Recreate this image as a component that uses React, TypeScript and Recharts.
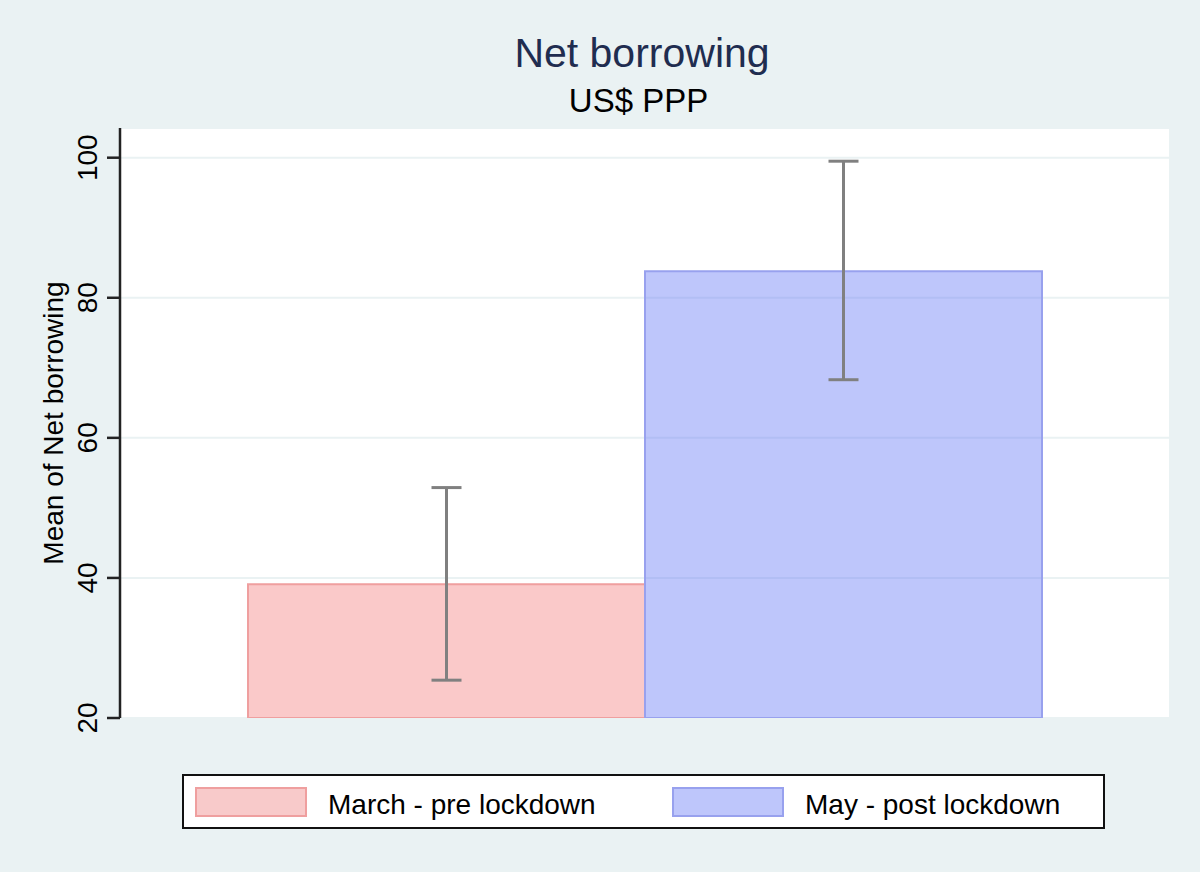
import React from "react";
import {
  BarChart,
  Bar,
  XAxis,
  YAxis,
  CartesianGrid,
  ErrorBar,
} from "recharts";

// values
const groups = ["March - pre lockdown", "May - post lockdown"];
const means = [39.1, 83.8];
const ciLow = [25.4, 68.3];
const ciHigh = [52.9, 99.5];
const yTicks = [20, 40, 60, 80, 100];

const FONT = '"Liberation Sans", Arial, Helvetica, sans-serif';
const BG = "#EAF2F3";

const seriesStyle = [
  { key: "march", fill: "rgb(240,100,100)", opacity: 0.35, stroke: "#EF9F9F", swatch: "#F8CACA" },
  { key: "may", fill: "rgb(100,120,245)", opacity: 0.42, stroke: "#98A1EE", swatch: "#BEC6FB" },
];

const row: Record<string, any> = { name: "" };
seriesStyle.forEach((s, i) => {
  row[s.key] = means[i];
  row[s.key + "Err"] = [means[i] - ciLow[i], ciHigh[i] - means[i]];
});
const data = [row];

function YTick(props: any) {
  const { y, payload } = props;
  return (
    <text
      x={97}
      y={y}
      transform={`rotate(-90, 97, ${y})`}
      textAnchor="middle"
      fontSize={28}
      fontFamily={FONT}
      fill="#000"
    >
      {payload.value}
    </text>
  );
}

function StataLegend() {
  return (
    <div
      style={{
        position: "absolute",
        left: 182,
        top: 774,
        width: 923,
        height: 55,
        boxSizing: "border-box",
        border: "2px solid #111",
        background: "#fff",
        fontFamily: FONT,
        fontSize: 28,
        lineHeight: "28px",
        color: "#000",
      }}
    >
      {groups.map((g, i) => {
        const left = i === 0 ? 11 : 488;
        return (
          <React.Fragment key={g}>
            <div
              style={{
                position: "absolute",
                left,
                top: 11,
                width: 112,
                height: 30,
                boxSizing: "border-box",
                background: seriesStyle[i].swatch,
                border: `2px solid ${seriesStyle[i].stroke}`,
              }}
            />
            <div style={{ position: "absolute", left: left + 133, top: 15, whiteSpace: "nowrap" }}>
              {g}
            </div>
          </React.Fragment>
        );
      })}
    </div>
  );
}

export default function App() {
  return (
    <div style={{ position: "relative", width: 1200, height: 872, background: BG, overflow: "hidden" }}>
      <style>{`body{margin:0}`}</style>
      <div
        style={{
          position: "absolute",
          left: 0,
          width: 1284,
          top: 33,
          textAlign: "center",
          fontFamily: FONT,
          fontSize: 41,
          lineHeight: "41px",
          color: "#1F2D50",
        }}
      >
        Net borrowing
      </div>
      <div
        style={{
          position: "absolute",
          left: 0,
          width: 1277,
          top: 84,
          textAlign: "center",
          fontFamily: FONT,
          fontSize: 33,
          lineHeight: "33px",
          color: "#000",
        }}
      >
        US$ PPP
      </div>
      <div style={{ position: "absolute", left: 0, top: 0 }}>
        <BarChart
          width={1200}
          height={872}
          data={data}
          margin={{ top: 128, right: 31, bottom: 154, left: 0 }}
          barCategoryGap={128}
          barGap={0}
        >
          <CartesianGrid vertical={false} stroke={BG} strokeWidth={2} fill="#fff" fillOpacity={1} />
          <XAxis
            dataKey="name"
            height={0}
            tick={false}
            tickLine={false}
            axisLine={{ stroke: "#222", strokeWidth: 2.5 }}
          />
          <YAxis
            width={120}
            domain={[20, 104.24]}
            ticks={yTicks}
            allowDataOverflow
            tickSize={13}
            tickLine={{ stroke: "#222", strokeWidth: 2.5 }}
            axisLine={{ stroke: "#222", strokeWidth: 2.5 }}
            tick={<YTick />}
            label={{
              value: "Mean of Net borrowing",
              angle: -90,
              position: "insideLeft",
              content: (p: any) => {
                const vb = p.viewBox || {};
                const cy = (vb.y ?? 128) + (vb.height ?? 590) / 2;
                return (
                  <text
                    x={63}
                    y={cy}
                    transform={`rotate(-90, 63, ${cy})`}
                    textAnchor="middle"
                    fontSize={28}
                    fontFamily={FONT}
                    fill="#000"
                  >
                    Mean of Net borrowing
                  </text>
                );
              },
            }}
          />
          {seriesStyle.map((s, i) => (
            <Bar
              key={s.key}
              dataKey={s.key}
              name={groups[i]}
              fill={s.fill}
              fillOpacity={s.opacity}
              stroke={s.stroke}
              strokeWidth={2}
              isAnimationActive={false}
            >
              <ErrorBar
                dataKey={s.key + "Err"}
                direction="y"
                width={15}
                stroke="#808080"
                strokeWidth={3}
              />
            </Bar>
          ))}
        </BarChart>
      </div>
      <StataLegend />
    </div>
  );
}
